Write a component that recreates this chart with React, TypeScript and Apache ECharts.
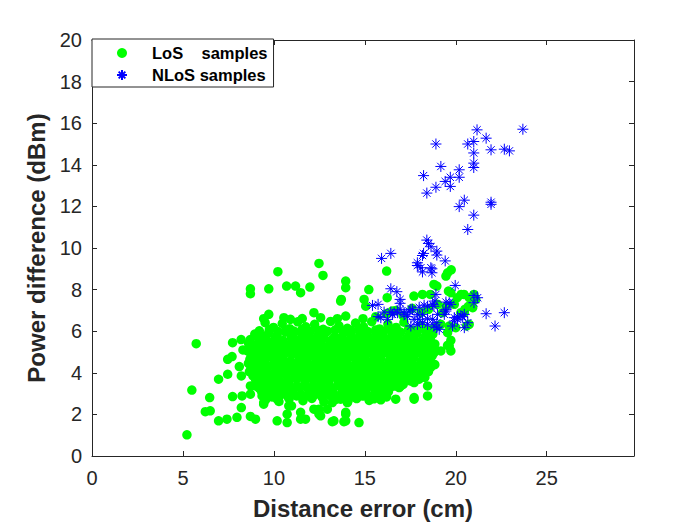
import React, { useEffect, useRef } from "react";
import * as echarts from "echarts";

const FONT = "'Liberation Sans', Arial, Helvetica, sans-serif";

const xTicks = [0, 5, 10, 15, 20, 25];
const yTicks = [0, 2, 4, 6, 8, 10, 12, 14, 16, 18, 20];

// LoS samples: dense core
const losCoreTop: number[][] = [
  [9.52,6.41],[9.98,6.18],[10.46,6.37],[10.87,6.12],[11.31,6.45],[11.76,6.21],[12.24,6.33],[12.71,6.09],[13.12,6.47],[13.58,6.26],[14.04,6.14],[14.49,6.39],[14.93,6.21],[15.38,6.46],[15.81,6.11],[16.27,6.34],[16.72,6.18],[17.15,6.43],[17.63,6.05],[18.08,6.27],[18.52,6.02],
  [9.2,6.02],[9.75,6.08],[10.22,5.99],[10.65,6.06],[11.1,6.01],[11.55,6.09],[12.0,5.98],[12.45,6.05],[12.95,6.0],[13.38,6.07],[13.82,5.97],[14.25,6.04],[14.7,6.1],[15.15,5.99],[15.6,6.06],[16.05,6.0],[16.5,6.08],[16.95,5.96],[17.4,6.09],[17.85,6.0],[18.3,6.06],[18.75,6.1],
  [8.95,5.86],[9.38,5.74],[9.71,5.92],[10.18,5.81],[10.64,5.95],[11.05,5.77],[11.52,5.89],[11.97,5.73],[12.45,5.84],[12.88,5.96],[13.35,5.74],[13.81,5.88],[14.26,5.79],[14.72,5.94],[15.16,5.77],[15.62,5.9],[16.05,5.72],[16.51,5.85],[16.96,5.93],[17.41,5.76],[17.87,5.89],[18.31,5.73],[18.74,5.86],
  [8.7,5.6],[9.15,5.66],[9.6,5.57],[10.05,5.64],[10.5,5.55],[10.95,5.67],[11.4,5.58],[11.85,5.65],[12.3,5.56],[12.75,5.68],[13.2,5.6],[13.65,5.66],[14.1,5.55],[14.55,5.63],[15.0,5.69],[15.45,5.57],[15.9,5.64],[16.35,5.56],[16.8,5.67],[17.25,5.59],[17.7,5.65],[18.15,5.55],[18.6,5.63],
  [8.61,5.42],[9.08,5.36],[9.49,5.48],[9.94,5.39],[10.41,5.5],[10.83,5.35],[11.29,5.46],[11.74,5.38],[12.19,5.49],[12.63,5.36],[13.09,5.45],[13.55,5.4],[13.98,5.51],[14.44,5.37],[14.89,5.47],[15.33,5.39],[15.79,5.5],[16.22,5.36],[16.68,5.45],[17.12,5.41],[17.57,5.49],[18.03,5.35],[18.47,5.46],[18.85,5.38],
  [8.8,5.2],[9.25,5.26],[9.7,5.16],[10.15,5.24],[10.6,5.18],[11.05,5.27],[11.5,5.15],[11.95,5.22],[12.4,5.28],[12.85,5.17],[13.3,5.25],[13.75,5.19],[14.2,5.27],[14.65,5.16],[15.1,5.23],[15.55,5.18],[16.0,5.28],[16.45,5.15],[16.9,5.24],[17.35,5.2],[17.8,5.27],[18.25,5.16],[18.7,5.22],
  [8.55,5.05],[8.97,4.98],[9.41,5.08],[9.86,4.96],[10.31,5.06],[10.75,5.0],[11.22,5.1],[11.66,4.97],[12.1,5.05],[12.55,4.99],[13.01,5.09],[13.46,4.95],[13.91,5.04],[14.35,4.98],[14.8,5.08],[15.25,4.96],[15.7,5.06],[16.14,5.0],[16.6,5.1],[17.04,4.97],[17.49,5.04],[17.95,4.99],[18.4,5.08],[18.8,4.96],
];

const losCoreMid: number[][] = [
  [8.75,4.85],[9.2,4.8],[9.65,4.88],[10.1,4.79],[10.55,4.86],[11.0,4.9],[11.45,4.81],[11.9,4.87],[12.35,4.78],[12.8,4.85],[13.25,4.89],[13.7,4.8],[14.15,4.86],[14.6,4.79],[15.05,4.88],[15.5,4.82],[15.95,4.9],[16.4,4.79],[16.85,4.86],[17.3,4.81],[17.75,4.89],[18.2,4.8],[18.65,4.87],
  [8.68,4.65],[9.13,4.58],[9.58,4.69],[10.02,4.6],[10.48,4.7],[10.92,4.56],[11.38,4.66],[11.83,4.59],[12.28,4.7],[12.74,4.57],[13.18,4.65],[13.63,4.61],[14.09,4.7],[14.53,4.58],[14.98,4.67],[15.44,4.6],[15.88,4.69],[16.33,4.56],[16.79,4.64],[17.23,4.6],[17.68,4.7],[18.12,4.57],[18.58,4.66],
  [8.6,4.45],[9.05,4.4],[9.5,4.48],[9.95,4.39],[10.4,4.46],[10.85,4.5],[11.3,4.41],[11.75,4.47],[12.2,4.38],[12.65,4.45],[13.1,4.49],[13.55,4.4],[14.0,4.46],[14.45,4.39],[14.9,4.48],[15.35,4.42],[15.8,4.5],[16.25,4.39],[16.7,4.46],[17.15,4.41],[17.6,4.49],[18.05,4.4],[18.5,4.47],[18.85,4.39],
  [8.74,4.25],[9.21,4.18],[9.66,4.29],[10.11,4.2],[10.57,4.3],[11.01,4.16],[11.47,4.26],[11.92,4.19],[12.37,4.3],[12.82,4.17],[13.27,4.25],[13.72,4.21],[14.18,4.3],[14.62,4.18],[15.07,4.27],[15.52,4.2],[15.97,4.29],[16.42,4.16],[16.88,4.24],[17.32,4.2],[17.77,4.3],[18.22,4.17],[18.62,4.26],
  [8.65,4.05],[9.1,4.0],[9.55,4.08],[10.0,3.99],[10.45,4.06],[10.9,4.1],[11.35,4.01],[11.8,4.07],[12.25,3.98],[12.7,4.05],[13.15,4.09],[13.6,4.0],[14.05,4.06],[14.5,3.99],[14.95,4.08],[15.4,4.02],[15.85,4.1],[16.3,3.99],[16.75,4.06],[17.2,4.01],[17.65,4.09],[18.1,4.0],[18.5,4.06],
];

const losCoreLow: number[][] = [
  [8.85,3.85],[9.31,3.78],[9.75,3.89],[10.22,3.8],[10.66,3.9],[11.11,3.76],[11.57,3.86],[12.02,3.79],[12.46,3.9],[12.91,3.77],[13.37,3.85],[13.82,3.81],[14.27,3.9],[14.71,3.78],[15.17,3.87],[15.61,3.8],[16.06,3.89],[16.51,3.76],[16.97,3.84],[17.42,3.8],[17.86,3.88],[18.3,3.78],
  [9.0,3.65],[9.45,3.6],[9.9,3.68],[10.35,3.59],[10.8,3.66],[11.25,3.7],[11.7,3.61],[12.15,3.67],[12.6,3.58],[13.05,3.65],[13.5,3.69],[13.95,3.6],[14.4,3.66],[14.85,3.59],[15.3,3.68],[15.75,3.62],[16.2,3.7],[16.65,3.59],[17.1,3.66],[17.5,3.61],
  [9.02,3.45],[9.47,3.38],[9.92,3.49],[10.37,3.4],[10.81,3.5],[11.26,3.36],[11.72,3.46],[12.17,3.39],[12.61,3.5],[13.06,3.37],[13.52,3.45],[13.96,3.41],[14.42,3.5],[14.86,3.38],[15.31,3.47],[15.76,3.4],[16.2,3.49],[16.66,3.36],[17.11,3.44],
  [9.2,3.25],[9.65,3.2],[10.1,3.28],[10.55,3.19],[11.0,3.26],[11.45,3.3],[11.9,3.21],[12.35,3.27],[12.8,3.18],[13.25,3.25],[13.7,3.29],[14.15,3.2],[14.6,3.26],[15.05,3.19],[15.5,3.28],[15.95,3.22],[16.4,3.3],
  [9.33,3.08],[9.68,2.99],[10.14,3.1],[10.59,3.01],[11.04,3.12],[11.49,2.98],[11.95,3.07],[12.4,3.0],[12.86,3.11],[13.3,2.99],[13.76,3.06],[14.21,3.02],[14.65,3.12],[15.1,2.98],[15.56,3.08],[16.01,3.01],[16.3,3.1],
  [9.45,2.88],[9.9,2.84],[10.35,2.91],[10.8,2.82],[11.25,2.89],[11.7,2.85],[12.2,2.92],[12.65,2.83],[13.1,2.9],[13.55,2.84],[14.0,2.91],[14.45,2.82],[14.9,2.88],[15.35,2.85],[15.8,2.92],[16.2,2.84],
  [9.55,2.71],[10.28,2.62],[10.84,2.75],[11.6,2.66],[12.09,2.77],[12.75,2.6],[13.41,2.72],[14.07,2.63],[14.55,2.76],[15.24,2.67],[15.88,2.7],
];

// LoS samples: scattered points around the core
const losUpper: number[][] = [
  [9.72,6.81],[9.44,6.6],[10.55,6.65],[10.91,6.57],[11.56,6.61],[12.2,6.89],[12.57,6.65],[13.49,6.6],[13.95,6.73],[13.67,7.45],[13.71,7.53],[16.2,6.85],[16.7,7.0],[17.1,6.75],[17.6,7.1],[18.1,6.9],[18.5,7.05],[15.6,6.7],[14.9,6.6],
  [12.48,9.26],[10.22,8.86],[12.7,8.68],[8.71,8.04],[8.71,7.8],[9.72,8.04],[10.7,8.17],[11.19,8.17],[11.47,7.85],[11.98,8.12],[13.95,8.41],[13.95,8.09],[15.22,8.0],[14.96,7.53],[15.05,7.2],[16.23,7.61],[16.2,8.89],
  [17.7,7.69],[18.17,7.77],[18.6,7.77],[18.8,8.25],[18.96,8.17],[19.0,7.29],[19.46,7.2],[19.6,7.93],[19.73,7.85],[19.55,8.81],[19.75,8.95],[19.46,8.65],[20.08,7.61],[20.3,7.77],[20.45,7.77],[21.0,7.77],[20.74,7.61],[21.1,7.53],[20.93,7.13],[20.7,7.2],[20.5,7.05],[19.92,7.29],[20.47,6.89],[20.28,6.89],[19.27,6.89],[16.5,6.97],
];

const losRight: number[][] = [
  [19.0,6.25],[19.18,6.33],[19.64,6.25],[20.0,6.17],[20.6,6.25],[20.74,6.33],[19.55,5.93],[19.55,5.32],[19.73,5.56],[19.64,5.29],[19.73,5.05],[19.18,5.05],[18.8,5.32],[18.7,4.81],[18.8,4.41],[18.5,4.25],
  [17.71,3.53],[17.99,3.69],[16.98,3.37],[18.45,3.37],[18.45,2.89],[17.71,2.73],[16.7,2.73],[17.71,2.81],[16.89,3.29],[15.5,2.75],[15.88,2.89],
];

const losLower: number[][] = [
  [13.95,2.01],[13.95,1.69],[13.3,1.69],[14.68,1.61],[13.21,1.65],[13.85,1.65],[13.95,2.1],[12.48,2.1],[12.48,2.25],[12.94,2.25],[12.48,2.01],[12.2,2.25],[12.57,1.93],[13.21,2.57],[13.67,2.73],[14.04,2.57],
  [11.47,1.77],[11.74,1.77],[11.47,2.1],[10.73,2.01],[10.73,1.61],[10.18,1.69],[10.97,2.41],[10.82,2.41],[10.18,2.73],[9.44,2.49],[9.44,2.57],[9.35,2.89],[8.99,1.77],[8.71,1.9],[8.21,2.33],[8.25,2.89],[8.71,2.97],[7.73,2.86],[7.97,1.86],[7.42,1.77],[6.96,1.69],[6.47,2.81],[6.23,2.13],[6.5,2.17],[5.49,3.17],[5.22,1.02],
  [5.73,5.4],[6.96,3.69],[7.46,3.93],[7.46,4.65],[7.7,4.78],[7.73,5.45],[8.21,3.85],[8.71,3.37],[8.99,3.37],[9.17,3.85],[8.3,5.1],[8.2,5.6],[8.1,4.3],
];

// NLoS samples
const nlosUpper: number[][] = [
  [21.17,15.68],[23.69,15.71],[18.91,15.0],[21.67,15.28],[20.66,15.0],[20.99,15.12],[21.94,14.72],[22.67,14.75],[22.95,14.67],[20.99,14.57],[19.18,13.92],[20.19,13.76],[20.99,14.08],[20.99,13.87],[18.23,13.48],[19.7,13.4],[20.19,13.4],[19.42,13.2],[18.91,12.92],[19.7,12.96],[18.41,12.64],[20.47,12.3],[20.19,11.99],[21.94,12.2],[21.94,12.1],[20.99,11.58],[20.66,10.89],
  [18.41,10.38],[18.5,10.22],[18.64,10.06],[18.23,9.74],[18.96,9.85],[18.96,9.66],[15.92,9.5],[16.43,9.74],[19.42,9.38],[17.89,9.29],[17.89,9.16],[18.08,9.05],[18.63,9.05],[18.17,9.64],[18.17,8.85],[18.69,9.0],[18.69,8.81],[19.97,8.2],
];

const nlosLower: number[][] = [
  [16.43,8.04],[16.76,7.9],[16.94,7.53],[16.94,7.34],[18.91,7.77],[18.85,7.45],[19.46,7.4],[19.64,7.37],[21.0,7.72],[21.2,7.61],[21.0,7.37],[21.67,6.84],[22.67,6.89],[22.16,6.25],
  [15.42,7.24],[15.73,7.29],[15.73,6.7],[15.88,6.65],[16.52,6.81],[16.8,6.89],[16.94,7.05],[17.16,6.81],[17.44,6.97],[17.53,7.05],[17.62,7.05],[17.99,7.15],[18.26,7.25],[18.45,7.2],[18.73,7.29],[18.17,6.81],[18.8,7.2],[19.0,6.81],[19.37,6.81],[19.46,6.97],[18.8,6.25],[18.96,6.41],[19.46,7.05],[19.73,7.29],[19.92,6.65],[20.1,6.7],[20.28,6.73],[20.38,6.7],[20.47,6.81],[20.66,6.41],[20.47,6.17],[19.82,6.25],[19.92,6.49],[20.1,6.57],[18.45,6.6],[18.73,6.57],[18.45,6.33],[17.99,6.57],[17.89,6.81],[17.71,6.57],[17.16,6.89],[17.35,6.7],[16.61,6.89],[16.43,6.92],[16.06,6.92],[16.25,6.57],[17.53,6.25],[17.89,6.33],[18.17,6.41],[18.96,6.17],[19.09,6.09],
];

const losData = [...losCoreTop, ...losCoreMid, ...losCoreLow, ...losUpper, ...losRight, ...losLower];
const nlosData = [...nlosUpper, ...nlosLower];

const STAR = "path://M0,6L12,6M6,0L6,12M2,2L10,10M10,2L2,10";
const AXIS_COLOR = "#262626";

function axisCommon(min: number, max: number, interval: number, ticks: number[]) {
  return {
    type: "value" as const,
    min,
    max,
    interval,
    axisLine: { show: true, onZero: false, lineStyle: { color: AXIS_COLOR, width: 1 } },
    axisTick: { show: true, inside: true, length: 5, lineStyle: { color: AXIS_COLOR, width: 1 } },
    splitLine: { show: false },
    axisLabel: {
      color: AXIS_COLOR,
      fontSize: 20,
      fontFamily: FONT,
      formatter: (v: number) => (ticks.indexOf(v) >= 0 ? String(v) : ""),
    },
  };
}

export default function App() {
  const ref = useRef<HTMLDivElement>(null);
  useEffect(() => {
    document.body.style.margin = "0";
    const chart = echarts.init(ref.current!, null, { renderer: "svg" });
    const xa = axisCommon(0, 29.8, 5, xTicks);
    const ya = axisCommon(0, 20, 2, yTicks);
    chart.setOption({
      animation: false,
      backgroundColor: "#ffffff",
      textStyle: { fontFamily: FONT },
      grid: { left: 92, top: 40, right: 66, bottom: 69, containLabel: false },
      legend: {
        left: 92,
        top: 39,
        orient: "vertical",
        align: "left",
        itemWidth: 50,
        itemHeight: 10,
        itemGap: 4,
        padding: [5, 6, 3, 24],
        borderColor: AXIS_COLOR,
        borderWidth: 1,
        backgroundColor: "#ffffff",
        selectedMode: false,
        textStyle: { fontSize: 16.5, fontWeight: "bold", color: "#000000", fontFamily: FONT, lineHeight: 18 },
        data: ["LoS    samples", "NLoS samples"],
      },
      xAxis: [
        {
          ...xa,
          position: "bottom",
          axisLabel: { ...xa.axisLabel, margin: 12 },
          name: "Distance error (cm)",
          nameLocation: "middle",
          nameGap: 40,
          nameTextStyle: { fontSize: 24, fontWeight: "bold", color: AXIS_COLOR, fontFamily: FONT },
        },
        { ...xa, position: "top", axisLabel: { show: false } },
      ],
      yAxis: [
        {
          ...ya,
          position: "left",
          axisLabel: { ...ya.axisLabel, margin: 10 },
          name: "Power difference (dBm)",
          nameLocation: "middle",
          nameGap: 39,
          nameTextStyle: { fontSize: 24, fontWeight: "bold", color: AXIS_COLOR, fontFamily: FONT },
        },
        { ...ya, position: "right", axisLabel: { show: false } },
      ],
      series: [
        {
          type: "scatter",
          name: "LoS    samples",
          data: losData,
          xAxisIndex: 0,
          yAxisIndex: 0,
          symbol: "circle",
          symbolSize: 9.5,
          itemStyle: { color: "#00ff00", opacity: 1 },
          silent: true,
        },
        {
          type: "scatter",
          name: "NLoS samples",
          data: nlosData,
          xAxisIndex: 0,
          yAxisIndex: 0,
          symbol: STAR,
          symbolSize: 11,
          itemStyle: { color: "#0000ff", borderColor: "#0000ff", borderWidth: 1, opacity: 1 },
          silent: true,
        },
      ],
    });
    return () => chart.dispose();
  }, []);
  return <div ref={ref} style={{ width: 700, height: 525, background: "#ffffff" }} />;
}
